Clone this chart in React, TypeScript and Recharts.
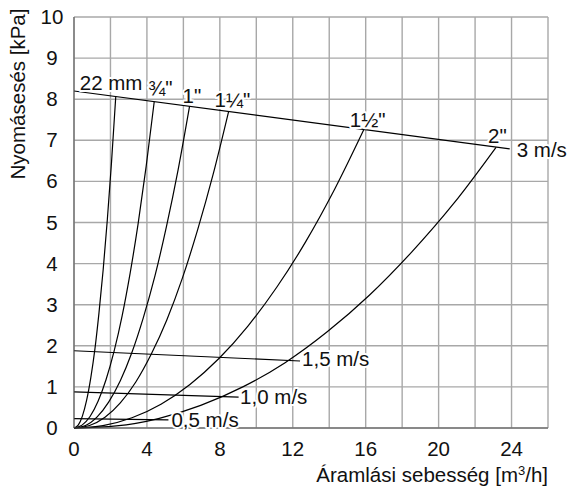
import React from "react";
import { CartesianGrid, Line, LineChart, XAxis, YAxis } from "recharts";

// flow [m3/h] vs pressure drop [kPa]
const xTicks = [0, 2, 4, 6, 8, 10, 12, 14, 16, 18, 20, 22, 24, 26];
const yTicks = [0, 1, 2, 3, 4, 5, 6, 7, 8, 9, 10];

const pipe22mm = [
  { x: 0, y: 0 }, { x: 0.23, y: 0.07 }, { x: 0.46, y: 0.29 }, { x: 0.69, y: 0.67 },
  { x: 0.92, y: 1.22 }, { x: 1.15, y: 1.93 }, { x: 1.37, y: 2.8 }, { x: 1.6, y: 3.85 },
  { x: 1.83, y: 5.08 }, { x: 2.06, y: 6.48 }, { x: 2.29, y: 8.06 }
];
const pipe34 = [
  { x: 0, y: 0 }, { x: 0.44, y: 0.07 }, { x: 0.88, y: 0.28 }, { x: 1.32, y: 0.65 },
  { x: 1.76, y: 1.18 }, { x: 2.2, y: 1.87 }, { x: 2.64, y: 2.73 }, { x: 3.08, y: 3.77 },
  { x: 3.52, y: 4.98 }, { x: 3.96, y: 6.37 }, { x: 4.4, y: 7.94 }
];
const pipe1 = [
  { x: 0, y: 0 }, { x: 0.63, y: 0.06 }, { x: 1.27, y: 0.27 }, { x: 1.9, y: 0.63 },
  { x: 2.54, y: 1.15 }, { x: 3.17, y: 1.83 }, { x: 3.8, y: 2.68 }, { x: 4.44, y: 3.7 },
  { x: 5.07, y: 4.9 }, { x: 5.71, y: 6.28 }, { x: 6.34, y: 7.83 }
];
const pipe114 = [
  { x: 0, y: 0 }, { x: 0.85, y: 0.06 }, { x: 1.7, y: 0.26 }, { x: 2.54, y: 0.61 },
  { x: 3.39, y: 1.12 }, { x: 4.24, y: 1.8 }, { x: 5.09, y: 2.63 }, { x: 5.94, y: 3.64 },
  { x: 6.78, y: 4.82 }, { x: 7.63, y: 6.17 }, { x: 8.48, y: 7.7 }
];
const pipe112 = [
  { x: 0, y: 0 }, { x: 1.59, y: 0.06 }, { x: 3.18, y: 0.25 }, { x: 4.77, y: 0.58 },
  { x: 6.36, y: 1.06 }, { x: 7.95, y: 1.69 }, { x: 9.54, y: 2.48 }, { x: 11.13, y: 3.43 },
  { x: 12.72, y: 4.54 }, { x: 14.31, y: 5.82 }, { x: 15.9, y: 7.26 }
];
const pipe2 = [
  { x: 0, y: 0 }, { x: 2.32, y: 0.05 }, { x: 4.63, y: 0.23 }, { x: 6.95, y: 0.55 },
  { x: 9.26, y: 1.0 }, { x: 11.58, y: 1.59 }, { x: 13.89, y: 2.34 }, { x: 16.2, y: 3.23 },
  { x: 18.52, y: 4.28 }, { x: 20.84, y: 5.47 }, { x: 23.15, y: 6.83 }
];

// constant velocity lines
const speed3 = [{ x: 0, y: 8.2 }, { x: 23.9, y: 6.79 }];
const speed15 = [{ x: 0, y: 1.88 }, { x: 12.4, y: 1.63 }];
const speed10 = [{ x: 0, y: 0.88 }, { x: 9.03, y: 0.75 }];
const speed05 = [{ x: 0, y: 0.23 }, { x: 5.18, y: 0.2 }];

const font = "'Liberation Sans', Arial, sans-serif";
const fs = 20.5;

function endLabel(text: string, count: number, dx: number, dy: number) {
  return (props: any) => {
    if (props.index !== count - 1) return <g key={props.index} />;
    return (
      <text
        key={props.index}
        x={props.cx + dx}
        y={props.cy + dy}
        fontSize={fs}
        fontFamily={font}
        fill="#111"
        stroke="#fff"
        strokeWidth={4}
        strokeLinejoin="round"
        paintOrder="stroke"
      >
        {text}
      </text>
    );
  };
}

const YTick = (props: any) => (
  <text x={props.x} y={props.y + 7} textAnchor="middle" fontSize={fs} fontFamily={font} fill="#111">
    {props.payload.value}
  </text>
);

export default function App() {
  const curve = { type: "monotone" as const, stroke: "#000", strokeWidth: 1.2, isAnimationActive: false };
  const straight = { type: "linear" as const, stroke: "#000", strokeWidth: 1.2, isAnimationActive: false };
  return (
    <div style={{ position: "absolute", left: 0, top: 0, background: "#fff" }}>
      <LineChart width={570} height={489} margin={{ top: 17, right: 22, bottom: 21, left: 30 }}>
        <CartesianGrid stroke="#a8a8a8" strokeWidth={1.4} />
        <XAxis
          type="number"
          dataKey="x"
          domain={[0, 26]}
          ticks={xTicks}
          height={40}
          tickLine={false}
          tickSize={0}
          tickMargin={13}
          axisLine={{ stroke: "#555" }}
          tick={{ fontSize: fs, fill: "#111", fontFamily: font }}
          tickFormatter={(v: number) => (v % 4 === 0 && v <= 24 ? String(v) : "")}
          interval={0}
        />
        <YAxis
          type="number"
          dataKey="y"
          domain={[0, 10]}
          ticks={yTicks}
          width={44}
          tickLine={false}
          tickSize={0}
          tickMargin={22}
          axisLine={{ stroke: "#555" }}
          tick={<YTick />}
          interval={0}
        />
        <Line data={speed05} dataKey="y" {...straight} dot={endLabel("0,5 m/s", 2, 3, 7)} />
        <Line data={speed10} dataKey="y" {...straight} dot={endLabel("1,0 m/s", 2, 1.5, 6.5)} />
        <Line data={speed15} dataKey="y" {...straight} dot={endLabel("1,5 m/s", 2, 2, 4.5)} />
        <Line data={speed3} dataKey="y" {...straight} dot={endLabel("3 m/s", 2, 7, 8.5)} />
        <Line data={pipe2} dataKey="y" {...curve} dot={endLabel('2"', 11, -8, -4)} />
        <Line data={pipe112} dataKey="y" {...curve} dot={endLabel('1½"', 11, -14, -3)} />
        <Line data={pipe114} dataKey="y" {...curve} dot={endLabel('1¼"', 11, -14, -4.5)} />
        <Line data={pipe1} dataKey="y" {...curve} dot={endLabel('1"', 11, -7, -3)} />
        <Line data={pipe34} dataKey="y" {...curve} dot={endLabel('¾"', 11, -6, -7)} />
        <Line data={pipe22mm} dataKey="y" {...curve} dot={endLabel("22 mm", 11, -36, -7)} />
        <text x={548} y={482} textAnchor="end" fontSize={fs} fontFamily={font} fill="#111">
          Áramlási sebesség [m<tspan dy={-7} fontSize={13}>3</tspan><tspan dy={7}>/h]</tspan>
        </text>
        <text
          x={25}
          y={94}
          textAnchor="middle"
          fontSize={fs}
          fontFamily={font}
          fill="#111"
          transform="rotate(-90, 25, 94)"
        >
          Nyomásesés [kPa]
        </text>
      </LineChart>
    </div>
  );
}
